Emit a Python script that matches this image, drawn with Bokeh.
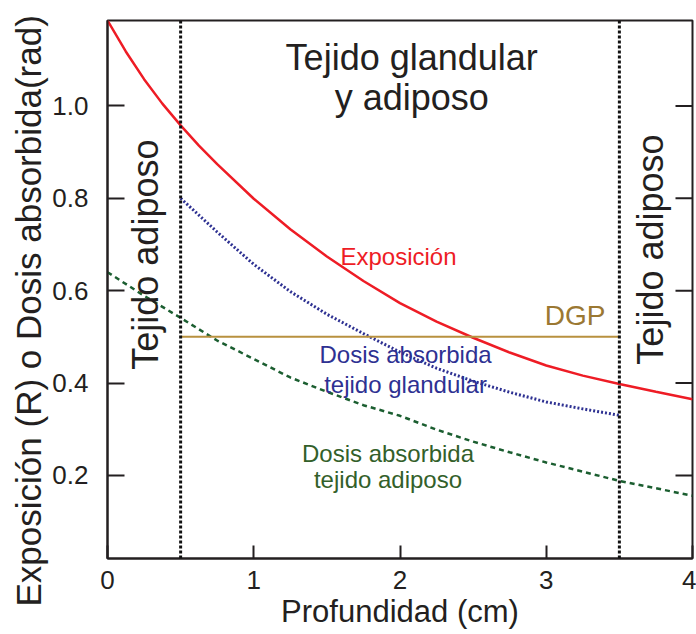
import math

from bokeh.core.properties import value
from bokeh.embed import file_html
from bokeh.models import FixedTicker, PrintfTickFormatter, Range1d, Span, Title
from bokeh.plotting import figure
from bokeh.resources import INLINE

# Exposure (R) along the whole depth of the breast (cm)
depth_exp = [0.0, 0.125, 0.25, 0.375, 0.5, 0.625, 0.75, 1.0, 1.25, 1.5, 1.75,
             2.0, 2.25, 2.5, 2.75, 3.0, 3.25, 3.5, 3.75, 4.0]
exposure = [1.185, 1.118, 1.058, 1.005, 0.958, 0.914, 0.874, 0.799, 0.733, 0.674,
            0.621, 0.573, 0.533, 0.498, 0.466, 0.438, 0.416, 0.398, 0.381, 0.365]

# Absorbed dose in fatty tissue (rad)
depth = [0.0, 0.25, 0.5, 0.75, 1.0, 1.25, 1.5, 1.75, 2.0,
         2.25, 2.5, 2.75, 3.0, 3.25, 3.5, 3.75, 4.0]
dose_adipose = [0.64, 0.589, 0.541, 0.492, 0.452, 0.412, 0.381, 0.352, 0.329,
                0.299, 0.273, 0.250, 0.228, 0.208, 0.188, 0.172, 0.156]

# Absorbed dose in glandular tissue (rad), glandular region only
depth_gland = [0.5, 0.75, 1.0, 1.25, 1.5, 1.75, 2.0, 2.25, 2.5, 2.75, 3.0, 3.25, 3.5]
dose_gland = [0.80, 0.727, 0.657, 0.598, 0.549, 0.507, 0.467, 0.432, 0.404,
              0.380, 0.359, 0.344, 0.330]

# Mean glandular dose (DGP) across the glandular region
dgp_depth = [0.5, 3.5]
dgp_level = [0.50, 0.50]

# Boundaries between the fatty layers and the glandular core
region_edges = [0.5, 3.5]

x_ticks = [0, 1, 2, 3, 4]
y_ticks = [0.2, 0.4, 0.6, 0.8, 1.0]

X_MIN, X_MAX = 0.0, 4.0
Y_MIN, Y_MAX = 0.02, 1.185

FONT = "Liberation Sans"
INK = "#231f20"
RED = "#ee1c25"
BLUE = "#2e3192"
GREEN_LINE = "#1b5e30"
GREEN_TEXT = "#335f2a"
GOLD_LINE = "#b8913f"
GOLD_TEXT = "#9b7832"

p = figure(
    width=696, height=634,
    x_range=Range1d(X_MIN, X_MAX), y_range=Range1d(Y_MIN, Y_MAX),
    output_backend="svg", toolbar_location=None,
    min_border_left=107, min_border_right=4,
    min_border_top=20, min_border_bottom=76,
    background_fill_color="white", border_fill_color="white",
)
p.grid.visible = False
p.outline_line_color = INK
p.outline_line_width = 2


def style_axis(ax, tick_in):
    ax.axis_line_color = INK
    ax.axis_line_width = 2
    ax.major_tick_line_color = INK
    ax.major_tick_line_width = 2
    ax.major_tick_in = tick_in
    ax.major_tick_out = 0
    ax.minor_tick_line_color = None
    ax.major_label_text_font = FONT
    ax.major_label_text_font_size = "26px"
    ax.major_label_text_color = INK
    ax.axis_label_text_font = FONT
    ax.axis_label_text_font_style = "normal"
    ax.axis_label_text_color = INK


xa = p.xaxis[0]
xa.ticker = FixedTicker(ticks=x_ticks)
style_axis(xa, 13)
xa.major_label_standoff = 12
xa.axis_label = "Profundidad (cm)"
xa.axis_label_text_font_size = "31px"
xa.axis_label_standoff = 2

ya = p.yaxis[0]
ya.ticker = FixedTicker(ticks=y_ticks)
ya.formatter = PrintfTickFormatter(format="%.1f")
style_axis(ya, 17)
ya.major_label_standoff = 19

# Vertical axis title, anchored near the bottom of the plot
p.add_layout(Title(text="Exposición  (R) o Dosis absorbida(rad)", align="left",
                   vertical_align="bottom", offset=-48, standoff=4,
                   text_font=FONT, text_font_size="35px", text_font_style="normal",
                   text_color=INK), "left")

# Inward tick marks on the right border
p.ray(x=[X_MAX] * len(y_ticks), y=y_ticks, length=17, length_units="screen",
      angle=math.pi, line_color=INK, line_width=2)

# Region boundaries
for edge in region_edges:
    p.add_layout(Span(location=edge, dimension="height", line_color="#111111",
                      line_width=3, line_dash="3 2"))

# Curves
p.line(depth_exp, exposure, line_color=RED, line_width=2.5)
p.line(depth_gland, dose_gland, line_color=BLUE, line_width=3, line_dash="2 2")
p.line(depth, dose_adipose, line_color=GREEN_LINE, line_width=2.5, line_dash="5 4")
p.line(dgp_depth, dgp_level, line_color=GOLD_LINE, line_width=2)

# Region captions
p.text(x=[2.08, 2.08], y=[1.1045, 1.0174], text=["Tejido glandular", "y adiposo"],
       text_font=value(FONT), text_font_size="36px", text_color=INK,
       text_align="center", text_baseline="middle")
p.text(x=[0.263, 3.713], y=[0.678, 0.689], text=["Tejido adiposo", "Tejido adiposo"],
       angle=math.pi / 2, text_font=value(FONT), text_font_size="36px",
       text_color=INK, text_align="center", text_baseline="middle")

# Curve captions
p.text(x=[1.593], y=[0.674], text=["Exposición"], text_font=value(FONT),
       text_font_size="24px", text_color=RED, text_baseline="middle")
p.text(x=[2.99], y=[0.547], text=["DGP"], text_font=value(FONT),
       text_font_size="28px", text_color=GOLD_TEXT, text_baseline="middle")
p.text(x=[2.038, 2.038], y=[0.461, 0.396], text=["Dosis absorbida", "tejido glandular"],
       text_font=value(FONT), text_font_size="24px", text_color=BLUE,
       text_align="center", text_baseline="middle")
p.text(x=[1.918, 1.918], y=[0.248, 0.1905], text=["Dosis absorbida", "tejido adiposo"],
       text_font=value(FONT), text_font_size="24px", text_color=GREEN_TEXT,
       text_align="center", text_baseline="middle")

open("out.html", "w").write(file_html(p, INLINE))
